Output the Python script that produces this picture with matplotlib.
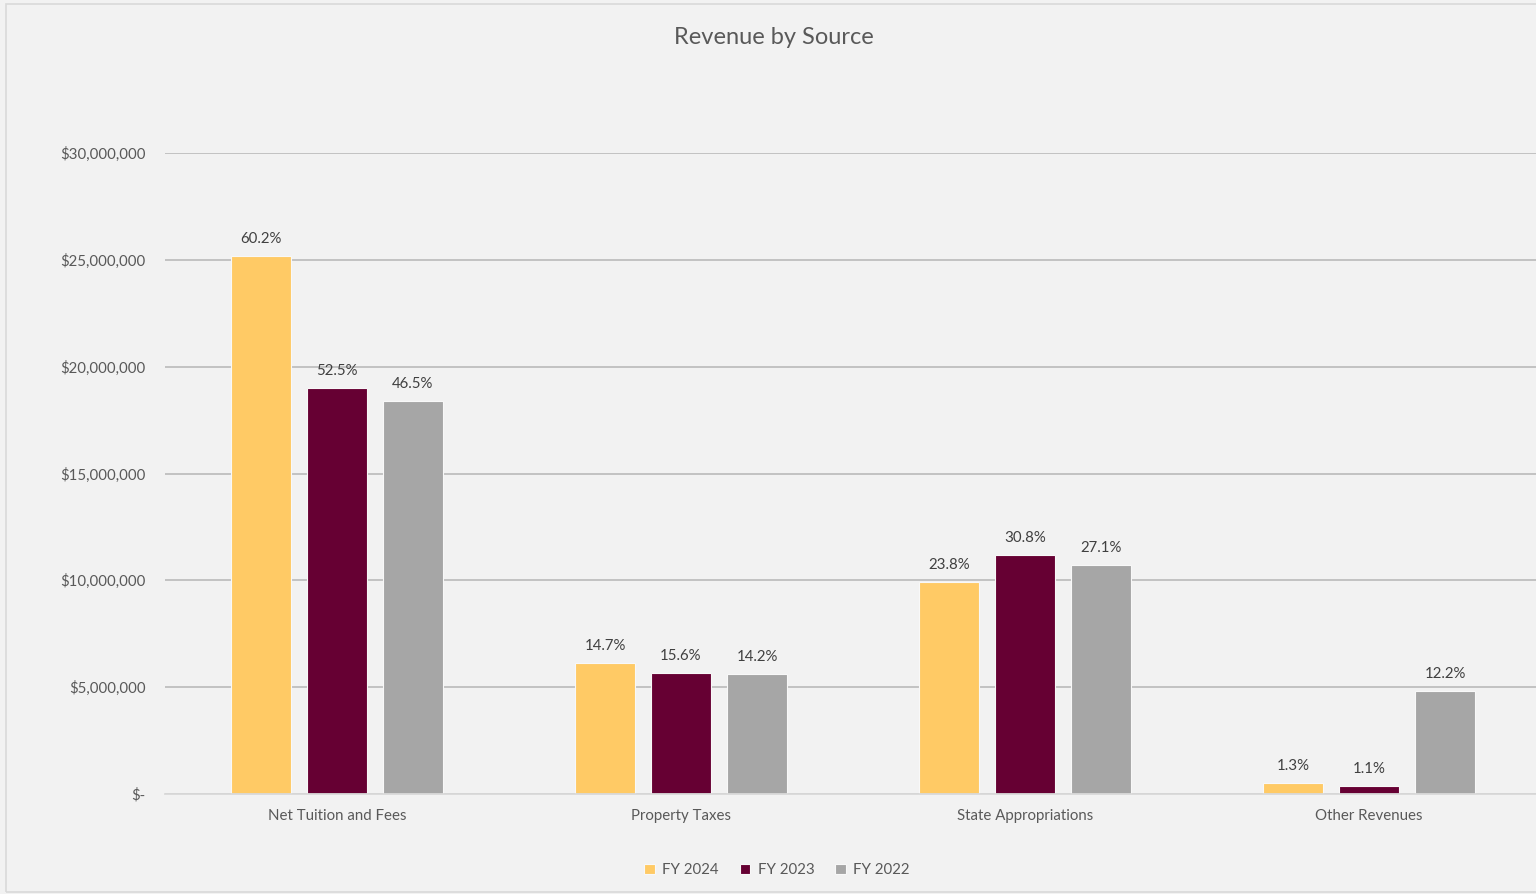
import matplotlib
matplotlib.use("Agg")
import matplotlib.pyplot as plt
from matplotlib.patches import Rectangle
from matplotlib.ticker import FuncFormatter
import numpy as np

categories = ["Net Tuition and Fees", "Property Taxes", "State Appropriations", "Other Revenues"]
series_names = ["FY 2024", "FY 2023", "FY 2022"]
fy2024 = [25180000, 6130000, 9920000, 510000]
fy2023 = [19000000, 5660000, 11180000, 370000]
fy2022 = [18390000, 5620000, 10720000, 4820000]
pct2024 = ["60.2%", "14.7%", "23.8%", "1.3%"]
pct2023 = ["52.5%", "15.6%", "30.8%", "1.1%"]
pct2022 = ["46.5%", "14.2%", "27.1%", "12.2%"]
yticks = [0, 5000000, 10000000, 15000000, 20000000, 25000000, 30000000]

colors = ["#FFCA65", "#660033", "#A6A6A6"]
txt = "#595959"
bg = "#F2F2F2"
plt.rcParams['font.family'] = ['Lato', 'DejaVu Sans']

W, H = 1536, 894
fig = plt.figure(figsize=(W / 100, H / 100), dpi=100, facecolor=bg)
fig.patches.append(Rectangle((6 / W, 2 / H), 2, (892 - 4) / H, transform=fig.transFigure,
                             facecolor="none", edgecolor="#D9D9D9", linewidth=1.2, zorder=0))

left, right, bot, top = 165, 1541, 794, 153
ax = fig.add_axes([left / W, (H - bot) / H, (right - left) / W, (bot - top) / H])
ax.set_facecolor(bg)
ax.patch.set_alpha(0)

x = np.arange(len(categories))
off = 76 / 344
bw = 60 / 344
allvals = [fy2024, fy2023, fy2022]
allpct = [pct2024, pct2023, pct2022]
for i, (vals, pcts) in enumerate(zip(allvals, allpct)):
    bars = ax.bar(x + (i - 1) * off, vals, width=bw, color=colors[i], edgecolor="#F8F8F8",
                  linewidth=0.8, label=series_names[i], zorder=3)
    for b, p in zip(bars, pcts):
        ax.annotate(p, (b.get_x() + b.get_width() / 2, b.get_height()), xytext=(0, 7),
                    textcoords="offset points", ha="center", va="bottom", fontsize=10.8, color="#404040")

ax.set_xlim(-0.5, 3.5)
ax.set_ylim(0, 30000000)
ax.set_yticks(yticks)
ax.yaxis.set_major_formatter(FuncFormatter(lambda v, p: "$-" if v == 0 else f"${v:,.0f}"))
ax.set_xticks(x)
ax.set_xticklabels(categories)
ax.tick_params(axis="both", length=0, labelsize=10.8, labelcolor=txt)
ax.tick_params(axis="y", pad=14)
ax.tick_params(axis="x", pad=11)
ax.grid(axis="y", color="#BFBFBF", linewidth=1.3, zorder=0)
for s in ["top", "right", "left"]:
    ax.spines[s].set_visible(False)
ax.spines["bottom"].set_color("#D9D9D9")
ax.spines["bottom"].set_linewidth(1.3)
ax.spines["bottom"].set_zorder(4)

fig.text(774 / W, 1 - 37 / H, "Revenue by Source", ha="center", va="center", fontsize=17, color=txt)

handles, labels = ax.get_legend_handles_labels()
leg = fig.legend(handles, labels, loc="center", bbox_to_anchor=(777 / W, 1 - 870 / H), ncol=3,
                 frameon=False, fontsize=10.8, handlelength=0.7, handleheight=0.7,
                 handletextpad=0.5, columnspacing=1.4, labelcolor=txt)

fig.savefig("out.png", dpi=100, facecolor=bg)
